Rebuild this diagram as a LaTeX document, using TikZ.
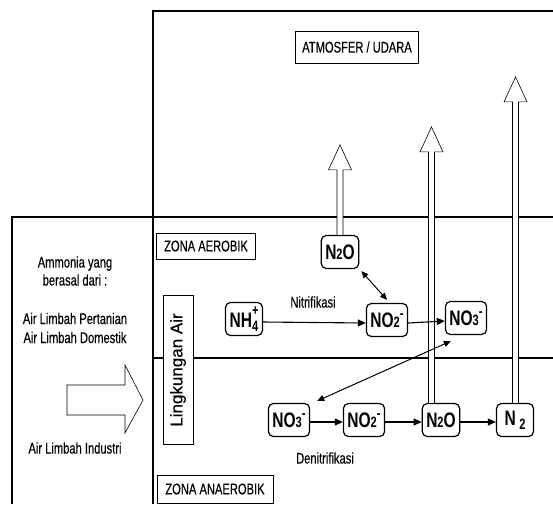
\documentclass[tikz,border=0pt]{standalone}
\usepackage{fontspec}
\setmainfont{Liberation Sans}[FakeStretch=0.72,FakeBold=0.3]
\newfontfamily\chemfont{Liberation Sans Bold}[FakeStretch=0.74]
\newfontfamily\widefont{Liberation Sans}[FakeBold=0.3]
\usetikzlibrary{arrows.meta,calc}
\newcommand{\dsmall}{\fontsize{15}{15}\selectfont}
\newcommand{\dsub}[1]{{\dsmall #1}}
\newcommand{\dsup}[1]{\raisebox{0.8ex}{\dsmall #1}}
\begin{document}
\begin{tikzpicture}[x=1pt,y=-1pt,
  frame/.style={line width=1.3pt},
  chem/.style={draw, rounded corners=5pt, line width=1.2pt, minimum width=37pt, minimum height=33pt, inner xsep=4pt, inner ysep=2pt, font=\chemfont\fontsize{21}{22}\selectfont, fill=white},
  labelbox/.style={draw, line width=0.6pt, font=\fontsize{15.5}{17}\selectfont, inner sep=0pt, fill=white},
  txt/.style={font=\fontsize{15.5}{18}\selectfont, align=center, inner sep=0pt},
  hollow/.style={draw, line width=0.6pt, fill=white},
  flow/.style={line width=1.1pt, -{Triangle[length=8pt,width=7pt]}},
  both/.style={line width=1pt, {Triangle[length=7pt,width=6pt]}-{Triangle[length=7pt,width=6pt]}}]
\useasboundingbox (0,0) rectangle (553,504);
\fill[white] (0,0) rectangle (553,504);
% frame
\draw[frame] (153,504) -- (153,11) -- (553,11);
\draw[frame] (12,504) -- (12,217) -- (553,217);
\draw[frame] (153,358) -- (553,358);
% nodes
\node[labelbox, minimum width=123pt, minimum height=32pt] (atm) at (357,47) {ATMOSFER / UDARA};
\node[labelbox, minimum width=99pt, minimum height=26pt] (zaer) at (206,246) {ZONA AEROBIK};
\node[labelbox, minimum width=116pt, minimum height=28pt] (zana) at (215,489) {ZONA ANAEROBIK};
\node[labelbox, rotate=90, minimum width=149pt, minimum height=30pt, font=\widefont\fontsize{17}{18}\selectfont] (ling) at (178,370) {Lingkungan Air};
\node[chem] (n2oA) at (340,252) {N\dsub{2}O};
\node[chem] (nh4) at (244,319) {NH\rlap{\raisebox{1.1ex}{\dsmall +}}\raisebox{-0.35ex}{\dsmall 4}\hspace{2pt}};
\node[chem] (no2A) at (387,320) {NO\dsub{2}\dsup{-}};
\node[chem] (no3A) at (466,318) {NO\dsub{3}\dsup{-}};
\node[chem] (no3B) at (289,420) {NO\dsub{3}\dsup{-}};
\node[chem] (no2B) at (364,420) {NO\dsub{2}\dsup{-}};
\node[chem] (n2oB) at (441,420) {N\dsub{2}O};
\node[chem] (n2) at (515,420) {N\,\raisebox{-0.35ex}{\dsmall 2}};
\node[txt] (nitri) at (313,302) {Nitrifikasi};
\node[txt] (denit) at (325,458) {Denitrifikasi};
\node[txt] (amm) at (75,271) {Ammonia yang\\berasal dari :};
\node[txt, font=\fontsize{15.5}{19}\selectfont] (src) at (75,328) {Air Limbah Pertanian\\Air Limbah Domestik};
\node[txt] (ind) at (75,448) {Air Limbah Industri};
% hollow arrows to atmosphere
\draw[hollow] ([xshift=-3pt]n2oA.north) -- ++(0,-65) -- ++(-8.5,0) -- ++(11.5,-25) -- ++(11.5,25) -- ++(-8.5,0) -- ([xshift=3pt]n2oA.north);
\draw[hollow] ([xshift=-12.5pt]n2oB.north) -- ++(0,-251) -- ++(-8.5,0) -- ++(11.5,-25) -- ++(11.5,25) -- ++(-8.5,0) -- ([xshift=-6.5pt]n2oB.north);
\draw[hollow] ([xshift=-2.5pt]n2.north) -- ++(0,-301) -- ++(-8.5,0) -- ++(11.5,-25) -- ++(11.5,25) -- ++(-8.5,0) -- ([xshift=3.5pt]n2.north);
% input arrow
\draw[hollow] (67,385) -- (125,385) -- (125,365) -- (143,400) -- (125,433) -- (125,415) -- (67,415) -- cycle;
% flows
\draw[flow] ([yshift=-3pt]nh4.east) -- ([yshift=-3pt]no2A.west);
\draw[flow] ([yshift=-3pt]no2A.east) -- ([yshift=-3pt]no3A.west);
\draw[flow] ([yshift=-2pt]no3B.east) -- ([yshift=-2pt]no2B.west);
\draw[flow] ([yshift=-2pt]no2B.east) -- ([yshift=-2pt]n2oB.west);
\draw[flow] ([yshift=-2pt]n2oB.east) -- ([yshift=-2pt]n2.west);
\draw[both] ([shift={(2,2)}]n2oA.south east) -- ([shift={(0,-3)}]no2A.north);
\draw[both] ([shift={(6,6)}]no3A.south west) -- ([shift={(7,-2)}]no3B.north east);
\end{tikzpicture}
\end{document}
